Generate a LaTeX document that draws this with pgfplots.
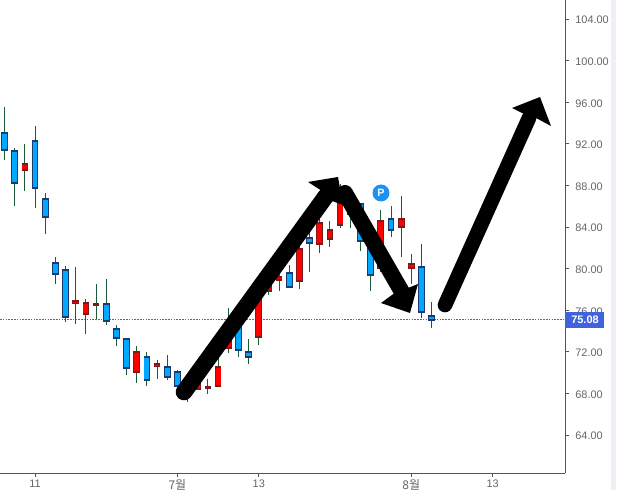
\documentclass[border=0pt]{standalone}
\usepackage{pgfplots}
\usepackage{pgfplotstable}
\usepackage{fontspec}
\pgfplotsset{compat=1.18}
\setmainfont{Liberation Sans}
\newfontfamily\cjk{Noto Sans CJK KR}
\definecolor{bluefill}{HTML}{00A8FF}
\definecolor{blueedge}{HTML}{1C3A6E}
\definecolor{redfill}{HTML}{FF0000}
\definecolor{rededge}{HTML}{7A1A1A}
\definecolor{wick}{HTML}{1A5C3A}
\definecolor{axisc}{HTML}{555555}
\definecolor{tickc}{HTML}{666666}
\definecolor{lastc}{HTML}{3F63DC}
\definecolor{stripc}{HTML}{EEF0F6}
\definecolor{badge}{HTML}{1E90F0}
\pgfplotstableread{
i high low top bot
0 95.54 90.44 93.04 91.40
1 91.60 86.02 91.31 88.23
3 93.71 85.83 92.27 87.75
4 87.27 83.33 86.69 84.96
5 81.12 78.52 80.54 79.48
6 80.25 74.87 79.87 75.35
10 79.00 74.58 76.60 74.96
11 74.58 72.56 74.19 73.33
12 73.23 69.77 73.23 70.44
14 71.98 68.71 71.50 69.29
16 71.69 69.29 70.54 69.58
17 70.25 68.04 70.06 68.71
18 69.00 67.17 68.52 67.75
23 76.02 71.50 74.87 72.17
24 73.23 70.83 71.98 71.50
28 80.35 78.13 79.58 78.23
30 84.19 79.67 82.94 82.46
34 87.56 83.90 86.88 85.25
35 86.31 81.69 86.21 82.65
36 84.19 77.85 83.23 79.38
38 86.02 83.04 84.77 83.71
41 82.37 75.25 80.15 75.83
42 76.79 74.29 75.44 75.06
}\bluetable
\pgfplotstableread{
i high low top bot
2 91.98 87.46 90.06 89.48
7 80.15 74.67 76.88 76.69
8 77.08 73.71 76.69 75.63
9 78.52 75.15 76.60 76.50
13 72.56 69.00 71.98 70.06
15 71.21 69.38 70.83 70.63
19 69.10 68.33 68.90 68.42
20 69.38 67.94 68.62 68.52
21 71.69 68.71 70.54 68.71
22 76.21 71.88 74.10 72.37
25 78.90 72.65 78.42 73.42
26 80.63 77.46 79.38 77.85
27 79.87 77.85 79.19 78.90
29 82.17 78.04 81.88 78.81
31 85.15 81.50 84.38 82.37
32 84.58 82.08 83.71 82.85
33 88.13 83.90 87.56 84.19
37 85.63 79.67 84.58 80.06
39 86.98 81.12 84.77 84.00
40 81.40 78.52 80.44 80.06
}\redtable
% wick, then outline, then fill of the candle body
\newcommand\candles[3]{%
  \addplot[draw=none,mark=none,forget plot,error bars/.cd,y dir=plus,y explicit,error mark=none,
    error bar style={draw=wick,line width=0.75pt}]
    table[x=i,y=low,y error expr=\thisrow{high}-\thisrow{low}]{#1};
  \addplot[draw=none,mark=none,forget plot,error bars/.cd,y dir=plus,y explicit,error mark=none,
    error bar style={draw=#3,line width=5pt,line cap=butt}]
    table[x=i,y expr=\thisrow{bot}-0.07,y error expr=\thisrow{top}-\thisrow{bot}+0.14]{#1};
  \addplot[draw=none,mark=none,forget plot,error bars/.cd,y dir=plus,y explicit,error mark=none,
    error bar style={draw=#2,line width=3.7pt,line cap=butt}]
    table[x=i,y expr=\thisrow{bot}+0.06,y error expr={max(\thisrow{top}-\thisrow{bot}-0.12,0)}]{#1};
}
\begin{document}
\begin{tikzpicture}
\path[use as bounding box] (0,0) rectangle (469.5pt,367.5pt);
\fill[stripc] (458pt,0) rectangle (462pt,367.5pt);
\begin{axis}[
  at={(0pt,12.5pt)},anchor=south west,
  scale only axis,width=424pt,height=355pt,
  xmin=-0.4425,xmax=55.14,ymin=60.32,ymax=105.83,
  axis x line=bottom,axis y line=right,
  axis line style={-,draw=axisc,line width=0.9pt},
  xtick={3,17,25,40,48},
  xticklabels={11,{\cjk\fontsize{9pt}{10pt}\selectfont 7월},13,{\cjk\fontsize{9pt}{10pt}\selectfont 8월},13},
  ytick={64,68,...,104},
  tick style={draw=axisc,line width=0.6pt},
  tick align=outside,
  major tick length=3pt,
  ticklabel style={text=tickc,font=\fontsize{8.2pt}{10pt}\selectfont},
  xticklabel style={yshift=1.5pt},
  yticklabel style={xshift=1pt,yshift=-0.75pt},
  /pgf/number format/assume math mode=true,
  yticklabel style={/pgf/number format/fixed,/pgf/number format/fixed zerofill,/pgf/number format/precision=2},
  clip=true,
]
\addplot[draw=lastc,line width=0.6pt,dash pattern=on 1.2pt off 0.9pt,forget plot] coordinates {(-0.4425,75.08)(55.14,75.08)};
\candles{\bluetable}{bluefill}{blueedge}
\candles{\redtable}{redfill}{rededge}
\end{axis}
\begin{scope}[x=0.75pt,y=-0.75pt,shift={(0pt,367.5pt)}]
% last price tag
\fill[lastc] (565,312) rectangle (604,328);
\node[text=white,font=\bfseries\fontsize{8.2pt}{10pt}\selectfont] at (585,320) {75.08};
% badge
\fill[badge] (381,193) circle (8.5);
\node[text=white,font=\bfseries\fontsize{8pt}{9pt}\selectfont] at (381,193) {P};
% arrows
\draw[black,line width=12.5pt,line cap=round] (184,392) -- (326,196);
\fill[black] (338,177) -- (308,182) -- (322,191) -- (332,201) -- (343,205) -- cycle;
\draw[black,line width=12pt,line cap=round] (345,193) -- (402,292);
\fill[black] (410,313) -- (381,303) -- (396,292) -- (408,288) -- (418,284) -- cycle;
\draw[black,line width=11pt,line cap=round] (445,305) -- (529,118);
\fill[black] (540,97) -- (512,108) -- (526,115) -- (536,118) -- (551,126) -- cycle;
\end{scope}
\end{tikzpicture}
\end{document}
